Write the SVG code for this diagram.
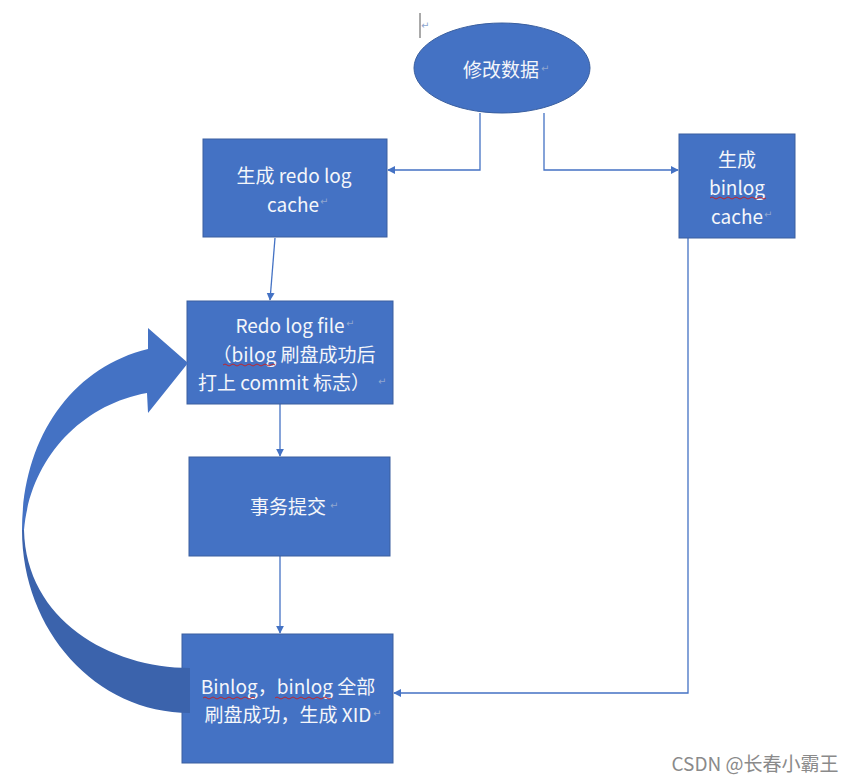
<svg xmlns="http://www.w3.org/2000/svg" width="856" height="780" viewBox="0 0 856 780">
<style>
.node{fill:#4472C4;stroke:#3A5F9F;stroke-width:1}
.t{font-family:"Noto Sans CJK SC","Noto Sans",sans-serif;font-size:19px;fill:#F4F6FA;text-anchor:middle;dominant-baseline:central}
.pm{font-family:"DejaVu Sans",sans-serif;font-size:10px;fill:#8FA6CF}
.edge{fill:none;stroke:#4472C4;stroke-width:1.3}
.sq{fill:none;stroke:#C0262C;stroke-width:1}
</style>
<defs>
<marker id="ah" viewBox="0 0 10 10" refX="9" refY="5" markerWidth="8" markerHeight="8" markerUnits="userSpaceOnUse" orient="auto">
<path d="M0,0 L10,5 L0,10 Z" fill="#4472C4"/>
</marker>
</defs>
<rect width="856" height="780" fill="#FFFFFF"/>
<line x1="420" y1="13" x2="420" y2="38" stroke="#555" stroke-width="1"/>
<text x="421" y="29" class="pm" fill="#999">↵</text>

<g id="connectors">
<path class="edge" d="M480,113 V170 H388" marker-end="url(#ah)"/>
<path class="edge" d="M544,113 V170 H678" marker-end="url(#ah)"/>
<path class="edge" d="M275,238 L270,300" marker-end="url(#ah)"/>
<path class="edge" d="M280,404 V456" marker-end="url(#ah)"/>
<path class="edge" d="M280,556 V633" marker-end="url(#ah)"/>
<path class="edge" d="M688,238 V693 H394" marker-end="url(#ah)"/>
</g>

<g id="n1">
<ellipse cx="502" cy="68" rx="88" ry="45" class="node"/>
<text x="501" y="68" class="t">修改数据</text>
<text x="541" y="72" class="pm">↵</text>
</g>

<g id="n2">
<rect x="203" y="139" width="184" height="98" class="node"/>
<text x="294" y="174" class="t">生成 redo log</text>
<text x="293" y="203" class="t">cache</text>
<text x="320" y="205" class="pm">↵</text>
</g>

<g id="n3">
<rect x="679" y="134" width="116" height="104" class="node"/>
<text x="737" y="158" class="t">生成</text>
<text x="737" y="186" class="t">binlog</text>
<text x="737" y="215" class="t">cache</text>
<text x="764" y="218" class="pm">↵</text>
<path class="sq" d="M710,198 q2,-2 4,0 t4,0 t4,0 t4,0 t4,0 t4,0 t4,0 t4,0 t4,0 t4,0 t4,0 t4,0 t4,0 t4,0"/>
</g>

<g id="n4">
<rect x="187" y="301" width="206" height="103" class="node"/>
<text x="290" y="324" class="t">Redo log file</text>
<text x="346" y="327" class="pm">↵</text>
<text x="294" y="353" class="t">（bilog 刷盘成功后</text>
<text x="284" y="381" class="t">打上 commit 标志）</text>
<text x="378" y="385" class="pm">↵</text>
<path class="sq" d="M223,365 q2,-2 4,0 t4,0 t4,0 t4,0 t4,0 t4,0 t4,0 t4,0 t4,0 t4,0 t4,0 t4,0 t4,0"/>
</g>

<g id="n5">
<rect x="189" y="457" width="201" height="99" class="node"/>
<text x="288" y="505" class="t">事务提交</text>
<text x="330" y="509" class="pm">↵</text>
</g>

<g id="n6">
<rect x="182" y="634" width="211" height="129" class="node"/>
<text x="288" y="685" class="t">Binlog，binlog 全部</text>
<text x="288" y="713" class="t">刷盘成功，生成 XID</text>
<text x="373" y="717" class="pm">↵</text>
<path class="sq" d="M203,698 q2,-2 4,0 t4,0 t4,0 t4,0 t4,0 t4,0 t4,0 t4,0 t4,0 t4,0 t4,0 t4,0 t4,0"/>
<path class="sq" d="M275,698 q2,-2 4,0 t4,0 t4,0 t4,0 t4,0 t4,0 t4,0 t4,0 t4,0 t4,0 t4,0 t4,0 t4,0 t4,0"/>
</g>

<g id="curved-arrow">
<path d="M22,530 C22,630 95,713 190,713 L190,668 C110,668 26,620 24,530 Z" fill="#3B63AC"/>
<path d="M148,349 L148,328 L188,363 L148,413 L147,393 C80,405 30,460 24,530 L22,530 C22,440 70,368 148,349 Z" fill="#4472C4"/>
</g>

<text x="755" y="762" style="font-family:'Noto Sans CJK SC','Noto Sans',sans-serif;font-size:19px;fill:#8A8A8A;text-anchor:middle;dominant-baseline:central">CSDN @长春小霸王</text>
</svg>
